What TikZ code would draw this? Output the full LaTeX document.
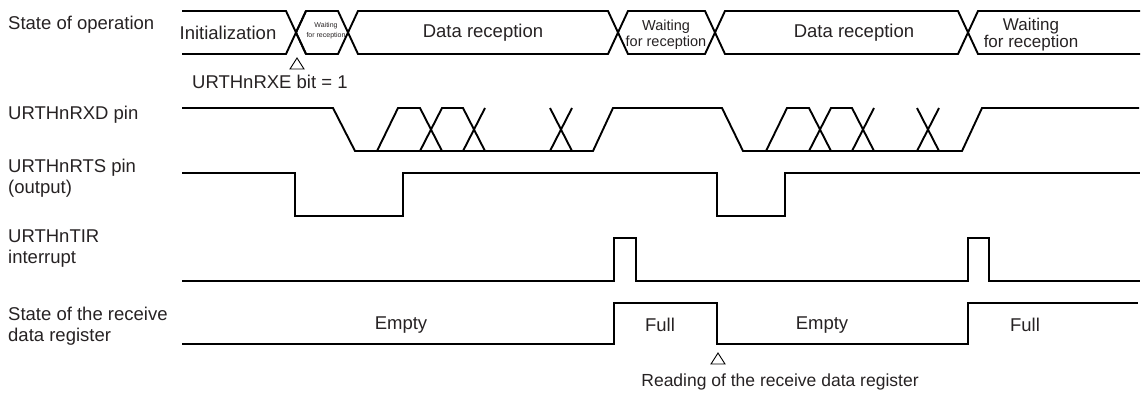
\documentclass[tikz,border=0pt]{standalone}
\usepackage{fontspec}
\setmainfont{Liberation Sans}
\usetikzlibrary{calc}

\definecolor{textgray}{RGB}{38,34,35}

\begin{document}
\begin{tikzpicture}[x=1pt,y=-1pt,
    wave/.style={line width=1.9pt, line join=miter, line cap=butt},
    lbl/.style={text=textgray, inner sep=0pt, font=\fontsize{18.5}{21}\selectfont},
    signame/.style={lbl, anchor=west, align=left}]

    \useasboundingbox (0,0) rectangle (1142,394);

    %----------------------------------------
    % SIGNAL NAMES (left column)
    %----------------------------------------
    \node[signame] (nstate) at (8,25)  {State of operation};
    \node[signame] (nrxd)   at (8,115) {URTHnRXD pin};
    \node[signame] (nrts)   at (8,178) {URTHnRTS pin\\(output)};
    \node[signame] (ntir)   at (8,249) {URTHnTIR\\interrupt};
    \node[signame] (nreg)   at (8,326) {State of the receive\\data register};

    %----------------------------------------
    % STATE OF OPERATION (bus with crossings)
    %----------------------------------------
    \def\yt{11}
    \def\yb{54}
    \def\ym{32.5}
    \def\hw{10}

    % first segment has a square start
    \draw[wave] (182,\yt) -- (286,\yt) -- (306,\yb);
    \draw[wave] (182,\yb) -- (286,\yb) -- (306,\yt);

    % middle segments: from one crossing centre to the next
    \foreach \a/\b in {296/348, 348/618, 618/715, 715/968}{
        \draw[wave] (\a,\ym) -- (\a+\hw,\yt) -- (\b-\hw,\yt) -- (\b,\ym);
        \draw[wave] (\a,\ym) -- (\a+\hw,\yb) -- (\b-\hw,\yb) -- (\b,\ym);
    }

    % last segment runs off to the right
    \draw[wave] (968,\ym) -- (978,\yt) -- (1140,\yt);
    \draw[wave] (968,\ym) -- (978,\yb) -- (1140,\yb);

    \node[lbl] (sinit) at (228,33) {Initialization};
    \node[lbl, align=center, font=\fontsize{7}{10}\selectfont] (swait1) at (326,31) {Waiting\\for reception};
    \node[lbl] (sdata1) at (483,33) {Data reception};
    \node[lbl, align=center, font=\fontsize{14.5}{16}\selectfont] (swait2) at (666,35) {Waiting\\for reception};
    \node[lbl] (sdata2) at (854,33) {Data reception};
    \node[lbl, align=center, font=\fontsize{17}{15.5}\selectfont] (swait3) at (1031,35) {Waiting\\for reception};

    %----------------------------------------
    % URTHnRXD PIN
    %----------------------------------------
    \draw[wave] (182,108) -- (333,108) -- (355,151) -- (593,151) -- (613,108)
        -- (722,108) -- (743,151) -- (962,151) -- (982,108) -- (1139,108);

    % data bits: shift of the burst / position of the last bit
    \foreach \o/\q in {0/550, 389/917}{
        \draw[wave] (377+\o,151) -- (398+\o,108) -- (420+\o,108) -- (442+\o,151);
        \draw[wave] (420+\o,151) -- (442+\o,108) -- (463+\o,108) -- (485+\o,151);
        \draw[wave] (463+\o,151) -- (485+\o,108);
        \draw[wave] (\q,108) -- (\q+22,151);
        \draw[wave] (\q,151) -- (\q+22,108);
    }

    %----------------------------------------
    % URTHnRTS PIN (output)
    %----------------------------------------
    \draw[wave] (182,173) -- (295,173) -- (295,216) -- (403,216) -- (403,173)
        -- (717,173) -- (717,216) -- (785,216) -- (785,173) -- (1140,173);

    %----------------------------------------
    % URTHnTIR INTERRUPT
    %----------------------------------------
    \draw[wave] (182,281) -- (614,281) -- (614,238) -- (636,238) -- (636,281)
        -- (968,281) -- (968,238) -- (989,238) -- (989,281) -- (1140,281);

    %----------------------------------------
    % RECEIVE DATA REGISTER
    %----------------------------------------
    \draw[wave] (182,344) -- (614,344) -- (614,303) -- (717,303) -- (717,344)
        -- (968,344) -- (968,303) -- (1138,303);

    \node[lbl] (rempty1) at (401,325) {Empty};
    \node[lbl] (rfull1)  at (660,325) {Full};
    \node[lbl] (rempty2) at (822,325) {Empty};
    \node[lbl] (rfull2)  at (1025,325) {Full};

    %----------------------------------------
    % EVENT MARKERS
    %----------------------------------------
    \foreach \x/\y in {297/58, 718/353}{
        \draw[line width=0.9pt, line join=miter] (\x,\y) -- (\x-7,\y+11) -- (\x+7,\y+11) -- cycle;
    }
    \node[lbl, anchor=west] (erxe) at (192,82) {URTHnRXE bit = 1};
    \node[lbl, font=\fontsize{17.5}{21}\selectfont] (eread) at (780,382) {Reading of the receive data register};

\end{tikzpicture}
\end{document}
